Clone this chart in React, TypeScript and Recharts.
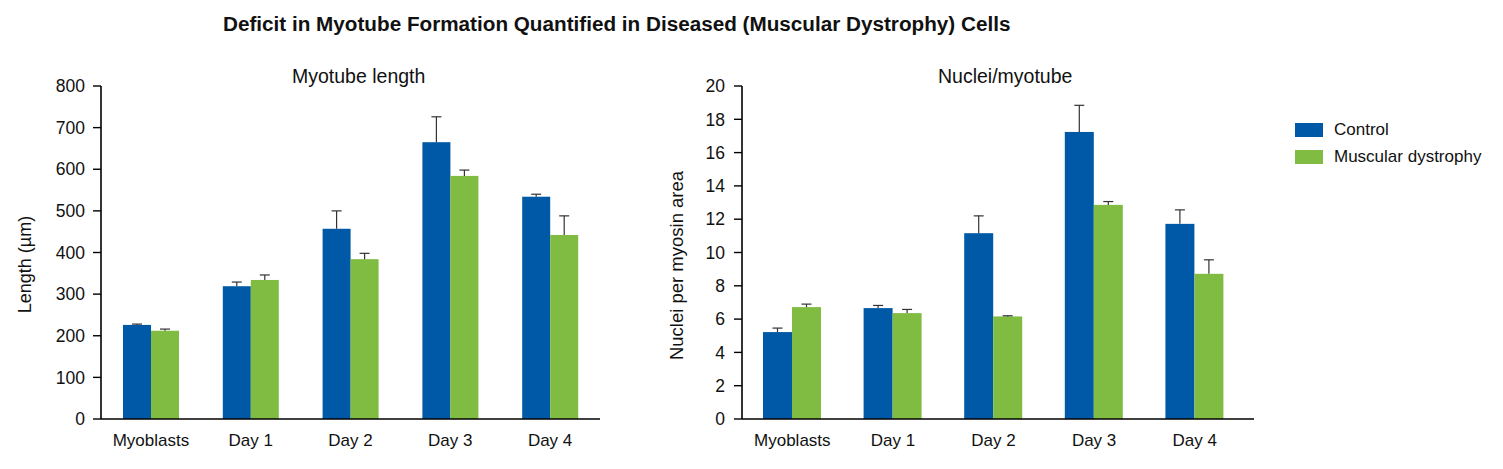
import React from 'react';
import { BarChart, Bar, XAxis, YAxis, Legend } from 'recharts';

const categories = ['Myoblasts', 'Day 1', 'Day 2', 'Day 3', 'Day 4'];

// Myotube length (µm)
const lengthControl = [226, 319, 457, 665, 534];
const lengthControlErr = [2, 10, 43, 61, 6];
const lengthDystrophy = [212, 334, 384, 584, 442];
const lengthDystrophyErr = [4, 12, 14, 14, 46];
const lengthTicks = [0, 100, 200, 300, 400, 500, 600, 700, 800];

// Nuclei per myosin area
const nucleiControl = [5.22, 6.66, 11.16, 17.24, 11.72];
const nucleiControlErr = [0.24, 0.16, 1.04, 1.6, 0.84];
const nucleiDystrophy = [6.72, 6.36, 6.16, 12.86, 8.72];
const nucleiDystrophyErr = [0.18, 0.22, 0.04, 0.2, 0.84];
const nucleiTicks = [0, 2, 4, 6, 8, 10, 12, 14, 16, 18, 20];

const BLUE = '#0059a6';
const GREEN = '#80bb42';
const FONT = '"Liberation Sans", Arial, Helvetica, sans-serif';

const lengthData = categories.map((name, i) => ({
  name,
  control: lengthControl[i],
  controlErr: lengthControlErr[i],
  dystrophy: lengthDystrophy[i],
  dystrophyErr: lengthDystrophyErr[i],
}));

const nucleiData = categories.map((name, i) => ({
  name,
  control: nucleiControl[i],
  controlErr: nucleiControlErr[i],
  dystrophy: nucleiDystrophy[i],
  dystrophyErr: nucleiDystrophyErr[i],
}));

// bar with an upward-only error whisker, scaled from the bar's own geometry
const barWithError = (valueKey: string, errKey: string) => (props: any) => {
  const { x, y, width, height, fill, payload } = props;
  const v = payload[valueKey];
  const e = payload[errKey];
  const ratio = v ? height / v : 0;
  const top = y - e * ratio;
  const cx = x + width / 2;
  return (
    <g>
      <rect x={x} y={y} width={width} height={height} fill={fill} />
      <line x1={cx} x2={cx} y1={y} y2={top} stroke="#333" strokeWidth={1.2} />
      <line x1={cx - 5} x2={cx + 5} y1={top} y2={top} stroke="#333" strokeWidth={1.2} />
    </g>
  );
};

const yLabel = (text: string, dx: number, dy: number, size: number) => (props: any) => {
  const { viewBox } = props;
  const cx = viewBox.x + dx;
  const cy = viewBox.y + viewBox.height / 2 + dy;
  return (
    <text
      x={cx}
      y={cy}
      transform={`rotate(-90, ${cx}, ${cy})`}
      textAnchor="middle"
      dominantBaseline="central"
      fontSize={size}
      fontFamily={FONT}
      fill="#111"
    >
      {text}
    </text>
  );
};

const renderLegend = (props: any) => {
  const { payload } = props;
  return (
    <div style={{ fontFamily: FONT, fontSize: 17, color: '#111' }}>
      {payload.map((p: any) => (
        <div key={p.value} style={{ display: 'flex', alignItems: 'center', height: 27 }}>
          <span style={{ width: 28, height: 14, background: p.color, marginRight: 11, display: 'inline-block' }} />
          <span>{p.value}</span>
        </div>
      ))}
    </div>
  );
};

const xTickStyle = { fontSize: 17, fill: '#111', fontFamily: FONT };
const yTickStyle = { fontSize: 17.5, fill: '#111', fontFamily: FONT };
const axisLine = { stroke: '#000', strokeWidth: 1.6 };

const subtitle = (left: number): React.CSSProperties => ({
  position: 'absolute',
  left,
  top: 65,
  fontSize: 19.5,
  fontFamily: FONT,
  color: '#111',
  whiteSpace: 'nowrap',
});

export default function App() {
  return (
    <div style={{ position: 'absolute', left: 0, top: 0, width: 1503, height: 469, background: '#fff' }}>
      <div
        style={{
          position: 'absolute',
          left: 223,
          top: 12,
          fontFamily: FONT,
          fontWeight: 'bold',
          fontSize: 20.7,
          color: '#111',
          whiteSpace: 'nowrap',
        }}
      >
        Deficit in Myotube Formation Quantified in Diseased (Muscular Dystrophy) Cells
      </div>
      <div style={subtitle(292)}>Myotube length</div>
      <div style={subtitle(938)}>Nuclei/myotube</div>

      <div style={{ position: 'absolute', left: 0, top: 0 }}>
        <BarChart
          width={620}
          height={469}
          data={lengthData}
          margin={{ top: 86, right: 20, bottom: 0, left: 0 }}
          barGap={0}
          barSize={28}
        >
          <XAxis
            dataKey="name"
            height={50}
            tickLine={false}
            tickSize={0}
            tickMargin={15}
            axisLine={axisLine}
            tick={xTickStyle}
            interval={0}
          />
          <YAxis
            width={101}
            domain={[0, 800]}
            ticks={lengthTicks}
            interval={0}
            tickSize={8}
            tickMargin={8}
            axisLine={axisLine}
            tickLine={{ stroke: '#000', strokeWidth: 1.4 }}
            tick={yTickStyle}
            label={yLabel('Length (\u00b5m)', 25, 12, 18)}
          />
          <Bar dataKey="control" name="Control" fill={BLUE} isAnimationActive={false} shape={barWithError('control', 'controlErr')} />
          <Bar dataKey="dystrophy" name="Muscular dystrophy" fill={GREEN} isAnimationActive={false} shape={barWithError('dystrophy', 'dystrophyErr')} />
        </BarChart>
      </div>

      <div style={{ position: 'absolute', left: 650, top: 0 }}>
        <BarChart
          width={853}
          height={469}
          data={nucleiData}
          margin={{ top: 86, right: 249, bottom: 0, left: 0 }}
          barGap={0}
          barSize={29}
        >
          <XAxis
            dataKey="name"
            height={50}
            tickLine={false}
            tickSize={0}
            tickMargin={15}
            axisLine={axisLine}
            tick={xTickStyle}
            interval={0}
            padding={{ left: 0, right: 9 }}
          />
          <YAxis
            width={92}
            domain={[0, 20]}
            ticks={nucleiTicks}
            interval={0}
            tickSize={8}
            tickMargin={9}
            axisLine={axisLine}
            tickLine={{ stroke: '#000', strokeWidth: 1.4 }}
            tick={yTickStyle}
            label={yLabel('Nuclei per myosin area', 26, 13, 18.5)}
          />
          <Legend
            layout="horizontal"
            align="center"
            verticalAlign="middle"
            content={renderLegend}
            wrapperStyle={{ left: 645, top: 116, width: 200 }}
          />
          <Bar dataKey="control" name="Control" fill={BLUE} isAnimationActive={false} shape={barWithError('control', 'controlErr')} />
          <Bar dataKey="dystrophy" name="Muscular dystrophy" fill={GREEN} isAnimationActive={false} shape={barWithError('dystrophy', 'dystrophyErr')} />
        </BarChart>
      </div>
    </div>
  );
}
